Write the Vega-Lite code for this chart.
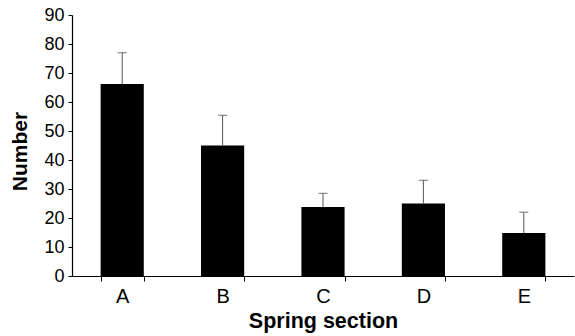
{
  "$schema": "https://vega.github.io/schema/vega-lite/v6.json",
  "width": 502,
  "height": 261,
  "autosize": {"type": "none"},
  "padding": {"left": 72, "top": 15, "right": 1, "bottom": 60},
  "background": "white",
  "data": {
    "values": [
      {"section": "A", "mean": 66.2, "upper": 77.0},
      {"section": "B", "mean": 45.0, "upper": 55.4},
      {"section": "C", "mean": 23.8, "upper": 28.5},
      {"section": "D", "mean": 25.0, "upper": 33.0},
      {"section": "E", "mean": 14.8, "upper": 22.0}
    ]
  },
  "config": {
    "view": {"stroke": null},
    "font": "Liberation Sans",
    "axis": {
      "domainColor": "black",
      "tickColor": "black",
      "labelColor": "black",
      "titleColor": "black",
      "grid": false,
      "labelFont": "Liberation Sans",
      "titleFont": "Liberation Sans"
    },
    "axisY": {
      "labelOverlap": false,
      "labelFlush": false,
      "labelFontSize": 18,
      "titleFontSize": 21,
      "titleFontWeight": "bold",
      "tickSize": 4,
      "labelPadding": 4,
      "titleX": -52,
      "titleY": 136,
      "titleAlign": "center",
      "titleBaseline": "middle",
      "titleAngle": -90,
      "domainWidth": 1.2
    }
  },
  "encoding": {
    "x": {
      "field": "section",
      "type": "nominal",
      "scale": {"paddingInner": 0.57, "paddingOuter": 0.285},
      "axis": {
        "title": "Spring section",
        "labelAngle": 0,
        "labelFontSize": 20,
        "titleFontSize": 21.5,
        "titleFontWeight": "bold",
        "tickSize": 5,
        "tickBand": "extent",
        "labelPadding": 5,
        "titlePadding": 4,
        "domainWidth": 1.2
      }
    }
  },
  "layer": [
    {
      "mark": {"type": "bar", "color": "black"},
      "encoding": {
        "y": {
          "field": "mean",
          "type": "quantitative",
          "scale": {"domain": [0, 90], "nice": false},
          "axis": {"title": "Number", "values": [0, 10, 20, 30, 40, 50, 60, 70, 80, 90]}
        }
      }
    },
    {
      "mark": {"type": "rule", "color": "#555555", "strokeWidth": 1},
      "encoding": {
        "y": {
          "field": "mean",
          "type": "quantitative",
          "axis": {"title": "Number", "values": [0, 10, 20, 30, 40, 50, 60, 70, 80, 90]}
        },
        "y2": {"field": "upper"}
      }
    },
    {
      "mark": {"type": "tick", "color": "#555555", "thickness": 1.2, "size": 9},
      "encoding": {
        "y": {
          "field": "upper",
          "type": "quantitative",
          "axis": {"title": "Number", "values": [0, 10, 20, 30, 40, 50, 60, 70, 80, 90]}
        }
      }
    }
  ]
}
